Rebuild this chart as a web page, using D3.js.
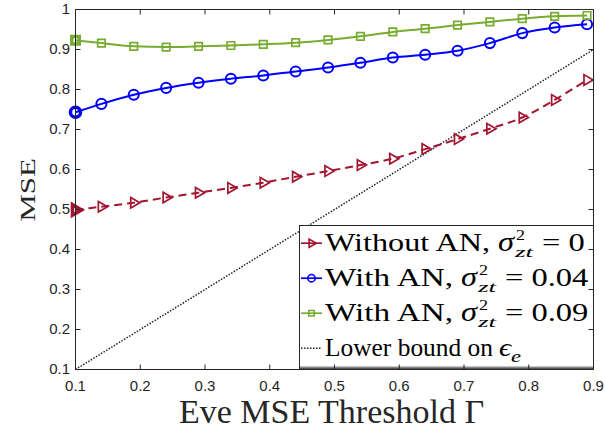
<!DOCTYPE html>
<html><head><meta charset="utf-8">
<script src="https://cdn.jsdelivr.net/npm/d3@7"></script>
<style>body{margin:0;background:#fff}svg{display:block}</style>
</head><body>
<svg id="chart" width="605" height="430"></svg>
<script>
// ---- data ----
const xValues = [0.1, 0.14, 0.19, 0.24, 0.29, 0.34, 0.39, 0.44, 0.49, 0.54, 0.59, 0.64, 0.69, 0.74, 0.79, 0.84, 0.89];
const withoutAN = [0.499, 0.507, 0.517, 0.530, 0.542, 0.554, 0.567, 0.582, 0.596, 0.611, 0.627, 0.651, 0.676, 0.702, 0.730, 0.774, 0.824];
const withAN004 = [0.743, 0.764, 0.787, 0.804, 0.817, 0.827, 0.835, 0.845, 0.855, 0.867, 0.880, 0.887, 0.897, 0.916, 0.941, 0.955, 0.963];
const withAN009 = [0.923, 0.916, 0.908, 0.906, 0.908, 0.910, 0.913, 0.917, 0.924, 0.933, 0.944, 0.952, 0.961, 0.969, 0.977, 0.983, 0.985];
const lowerBoundX = [0.1, 0.9];
const lowerBoundY = [0.1, 0.9];
const xTicks = [0.1, 0.2, 0.3, 0.4, 0.5, 0.6, 0.7, 0.8, 0.9];
const xTickLabels = ["0.1", "0.2", "0.3", "0.4", "0.5", "0.6", "0.7", "0.8", "0.9"];
const yTicks = [0.1, 0.2, 0.3, 0.4, 0.5, 0.6, 0.7, 0.8, 0.9, 1];
const yTickLabels = ["0.1", "0.2", "0.3", "0.4", "0.5", "0.6", "0.7", "0.8", "0.9", "1"];
const legendPrefix = ["Without AN,", "With AN,", "With AN,", "Lower bound on"];
const legendValue = ["0", "0.04", "0.09", null];
const xLabel = "Eve MSE Threshold \u0393";
const yLabel = "MSE";

// ---- setup ----
const svg = d3.select("#chart");
const x = d3.scaleLinear().domain([0.1, 0.9]).range([75.5, 593.5]);
const y = d3.scaleLinear().domain([0.1, 1]).range([369.5, 9.5]);
const axisColor = "#262626";

const series = [
  {ys: withoutAN, color: "#A2142F", dash: "8,5", width: 2, marker: "tri"},
  {ys: withAN004, color: "#0000FF", dash: null, width: 2, marker: "circle"},
  {ys: withAN009, color: "#77AC30", dash: null, width: 2, marker: "square"}
];

function markerPath(type, big) {
  if (type === "circle") return d3.symbol(d3.symbolCircle, big ? 80 : 42)();
  if (type === "square") return d3.symbol(d3.symbolSquare, big ? 56 : 30)();
  return d3.symbol(d3.symbolTriangle, big ? 48 : 30)();
}
function markerRot(type) { return type === "tri" ? " rotate(90)" : ""; }

const plot = svg.append("g");
const line = d3.line().x(d => x(d[0])).y(d => y(d[1])).curve(d3.curveMonotoneX);

// lower bound dotted line
plot.append("path")
  .attr("d", d3.line().x(d => x(d[0])).y(d => y(d[1]))(lowerBoundX.map((v, i) => [v, lowerBoundY[i]])))
  .attr("fill", "none").attr("stroke", "#222").attr("stroke-width", 1.5)
  .attr("stroke-dasharray", "1.5,1.5");

series.forEach(s => {
  const pts = xValues.map((v, i) => [v, s.ys[i]]);
  plot.append("path").attr("d", line(pts))
    .attr("fill", "none").attr("stroke", s.color).attr("stroke-width", s.width)
    .attr("stroke-dasharray", s.dash);
  plot.selectAll(null).data(pts).enter().append("path")
    .attr("d", markerPath(s.marker, true))
    .attr("transform", d => `translate(${x(d[0])},${y(d[1])})` + markerRot(s.marker))
    .attr("fill", "none").attr("stroke", s.color)
    .attr("stroke-width", (d, i) => i === 0 ? 3.5 : (s.marker === "circle" ? 2 : 1.7));
});

// ---- legend ----
const lg = svg.append("g");
lg.append("rect").attr("x", 299.5).attr("y", 225.5).attr("width", 294).attr("height", 143)
  .attr("fill", "#fff").attr("stroke", axisColor).attr("stroke-width", 1);
lg.append("line").attr("x1", 300).attr("x2", 593).attr("y1", 367.5).attr("y2", 367.5)
  .attr("stroke", "#888").attr("stroke-width", 2);
const serif = "'Liberation Serif', 'Times New Roman', serif";
function fitText(g, str, xPos, yPos, size, italic, width) {
  const t = g.append("text").attr("x", xPos).attr("y", yPos)
    .attr("font-family", serif).attr("font-size", size)
    .attr("font-style", italic ? "italic" : "normal").attr("fill", "#000").text(str);
  const w = width || t.node().getComputedTextLength();
  if (width) t.attr("textLength", w).attr("lengthAdjust", "spacingAndGlyphs");
  return xPos + w;
}
// legend layout (pixel widths of the label runs)
const prefixWidth = [165, 128, 128, 168];
const legendStyles = series.map(s => ({color: s.color, marker: s.marker, dash: null}))
  .concat([{color: "#222", marker: null, dash: "1.5,1.5"}]);
legendPrefix.forEach((p, i) => {
  const by = 250.7 + i * 35;
  const cy = by - 7.5;
  const st = legendStyles[i];
  lg.append("line").attr("x1", 301).attr("x2", 322).attr("y1", cy).attr("y2", cy)
    .attr("stroke", st.color).attr("stroke-width", st.marker ? 1.7 : 1.5)
    .attr("stroke-dasharray", st.dash);
  if (st.marker) {
    lg.append("path").attr("d", markerPath(st.marker, false))
      .attr("transform", `translate(311.5,${cy})` + markerRot(st.marker))
      .attr("fill", "none").attr("stroke", st.color).attr("stroke-width", 1.6);
  }
  const xe = fitText(lg, p, 325, by, 26, false, prefixWidth[i]);
  if (legendValue[i] !== null) {
    const sx = xe + 8;
    fitText(lg, "\u03C3", sx, by, 27, true, 16);
    fitText(lg, "2", sx + 18, by - 10.5, 14, false, 9);
    fitText(lg, "zt", sx + 17, by + 6, 15, true, 18);
    const t = lg.append("text").attr("font-family", serif).attr("font-size", 26).text("= " + legendValue[i]);
    const nat = t.node().getComputedTextLength();
    t.remove();
    fitText(lg, "= " + legendValue[i], sx + 44, by, 26, false, nat * 1.25);
  } else {
    const ex = xe + 6;
    fitText(lg, "\u03F5", ex, by, 26, true, 12);
    fitText(lg, "e", ex + 12, by + 6, 17, true, 10);
  }
});

// ---- axes ----
const fmtX = d => xTickLabels[xTicks.indexOf(d)];
const fmtY = d => yTickLabels[yTicks.indexOf(d)];
const gx = svg.append("g").attr("transform", "translate(0,369.5)")
  .call(d3.axisBottom(x).tickValues(xTicks).tickFormat(fmtX).tickSize(-5).tickSizeOuter(0).tickPadding(11).offset(0));
const gxt = svg.append("g").attr("transform", "translate(0,9.5)")
  .call(d3.axisTop(x).tickValues(xTicks).tickFormat("").tickSize(-5).tickSizeOuter(0).offset(0));
const gy = svg.append("g").attr("transform", "translate(75.5,0)")
  .call(d3.axisLeft(y).tickValues(yTicks).tickFormat(fmtY).tickSize(-5).tickSizeOuter(0).tickPadding(5.5).offset(0));
const gyr = svg.append("g").attr("transform", "translate(593.5,0)")
  .call(d3.axisRight(y).tickValues(yTicks).tickFormat("").tickSize(-5).tickSizeOuter(0).offset(0));
[gx, gxt, gy, gyr].forEach(g => {
  g.selectAll(".domain").attr("stroke", axisColor).attr("stroke-width", 1);
  g.selectAll(".tick line").attr("stroke", axisColor).attr("stroke-width", 1);
  g.selectAll(".tick text").attr("fill", axisColor)
    .attr("font-family", "'Liberation Sans', Arial, Helvetica, sans-serif").attr("font-size", 15);
});

// axis labels
svg.append("text").attr("x", 331.5).attr("y", 423).attr("text-anchor", "middle")
  .attr("font-family", serif).attr("font-size", 34).attr("fill", axisColor).text(xLabel);
svg.append("text").attr("transform", "translate(34.5,190) rotate(-90) scale(1,0.68)")
  .attr("text-anchor", "middle").attr("font-family", serif).attr("font-size", 31)
  .attr("fill", axisColor).text(yLabel);
</script>
</body></html>
